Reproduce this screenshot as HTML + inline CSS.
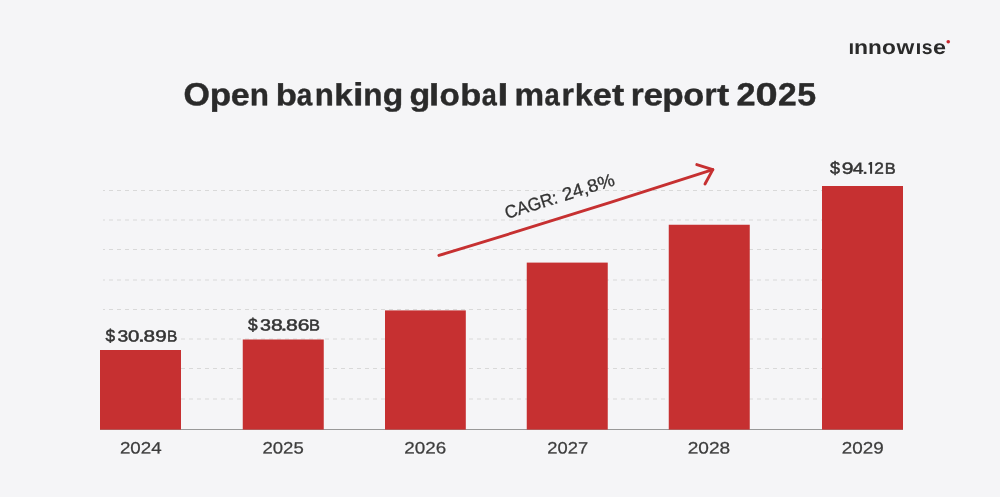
<!DOCTYPE html>
<html lang="en">
<head>
<meta charset="utf-8">
<title>Open banking global market report 2025</title>
<style>
  html, body { margin: 0; padding: 0; }
  body { width: 1000px; height: 497px; background: #f5f5f7; overflow: hidden; font-family: "Liberation Sans", sans-serif; }
  svg { display: block; position: absolute; left: 0; top: 0; will-change: transform; }
  text { font-family: "Liberation Sans", sans-serif; text-rendering: geometricPrecision; }
  .title { font-size: 32px; font-weight: bold; fill: #2a2a2a; stroke: #2a2a2a; stroke-width: 0.4px; stroke-linejoin: round; }
  .val { font-size: 16px; font-weight: normal; fill: #333333; stroke: #333333; stroke-width: 0.45px; stroke-linejoin: round; }
  .yr { font-size: 16.5px; fill: #3c3c3c; stroke: #3c3c3c; stroke-width: 0.25px; }
  .cagr { font-size: 18px; fill: #333333; stroke: #333333; stroke-width: 0.3px; }
  .logo { font-size: 20.2px; font-weight: bold; fill: #2a2a2a; }
</style>
</head>
<body>
<svg width="1000" height="497" viewBox="0 0 1000 497" role="img" aria-label="Open banking global market report 2025">
  <desc>Open banking global market report 2025. Bar chart, 2024 to 2029: $30.89B in 2024, $38.86B in 2025, rising to $94.12B in 2029. CAGR: 24,8%. innowise.</desc>
  <!-- gridlines -->
  <g stroke="#d9d9d9" stroke-width="1" stroke-dasharray="4 4" stroke-dashoffset="2" fill="none">
    <line x1="103" y1="190.5" x2="822" y2="190.5"/>
    <line x1="103" y1="220" x2="822" y2="220"/>
    <line x1="103" y1="249.5" x2="822" y2="249.5"/>
    <line x1="103" y1="280" x2="822" y2="280"/>
    <line x1="103" y1="309.5" x2="822" y2="309.5"/>
    <line x1="103" y1="339" x2="822" y2="339"/>
    <line x1="103" y1="368.5" x2="822" y2="368.5"/>
    <line x1="103" y1="399" x2="822" y2="399"/>
  </g>
  <!-- label backdrop hides gridline behind first value label -->
  <rect x="99.5" y="326" width="81.5" height="22" fill="#f5f5f7"/>
  <!-- baseline -->
  <line x1="100" y1="429.5" x2="903" y2="429.5" stroke="#999999" stroke-width="1"/>
  <!-- bars -->
  <g fill="#c63031">
    <rect x="100" y="350" width="81" height="79.60"/>
    <rect x="242.75" y="339.5" width="81" height="90.10"/>
    <rect x="385" y="310.4" width="80.8" height="119.20"/>
    <rect x="526.75" y="262.6" width="81" height="167.00"/>
    <rect x="668.75" y="224.75" width="81" height="204.85"/>
    <rect x="822" y="186" width="81" height="243.60"/>
  </g>

  <!-- arrow -->
  <g stroke="#c63031" stroke-width="2.9" stroke-linecap="round" stroke-linejoin="round" fill="none">
    <path d="M438.9,255.4 Q575.85,214.0 712.8,169.6"/>
    <polyline points="696.8,164.6 712.8,169.6 705.0,184.0"/>
  </g>

  <!-- title -->
  <g class="title" aria-label="Open banking global market report 2025">
    <text transform="translate(184.95,105.35) matrix(1.0614,0.001,0,1,0,0)" x="-1.312" y="0">O</text>
    <text transform="translate(212.10,105.35) matrix(1.0977,0.001,0,0.97,0,0)" x="-2.109" y="0">p</text>
    <text transform="translate(232.10,105.35) matrix(1.0645,0.001,0,0.97,0,0)" x="-1.250" y="0">e</text>
    <text transform="translate(251.70,105.35) matrix(0.9836,0.001,0,0.97,0,0)" x="-2.109" y="0">n</text>
    <text transform="translate(277.95,105.35) matrix(1.0822,0.001,0,0.95,0,0)" x="-2.109" y="0">b</text>
    <text transform="translate(297.45,105.35) matrix(0.8703,0.001,0,0.97,0,0)" x="-0.938" y="0">a</text>
    <text transform="translate(316.80,105.35) matrix(0.9771,0.001,0,0.97,0,0)" x="-2.109" y="0">n</text>
    <text transform="translate(336.45,105.35) matrix(1.0421,0.001,0,0.95,0,0)" x="-2.234" y="0">k</text>
    <text transform="translate(355.60,105.35) matrix(1.1843,0.001,0,1,0,0)" x="-2.234" y="0">i</text>
    <text transform="translate(365.20,105.35) matrix(0.9836,0.001,0,0.97,0,0)" x="-2.109" y="0">n</text>
    <text transform="translate(384.05,105.35) matrix(1.0501,0.001,0,0.97,0,0)" x="-1.312" y="0">g</text>
    <text transform="translate(410.80,105.35) matrix(1.0625,0.001,0,0.97,0,0)" x="-1.312" y="0">g</text>
    <text transform="translate(431.45,105.35) matrix(1.1957,0.001,0,0.95,0,0)" x="-2.234" y="0">l</text>
    <text transform="translate(440.80,105.35) matrix(1.0412,0.001,0,0.97,0,0)" x="-1.250" y="0">o</text>
    <text transform="translate(462.45,105.35) matrix(1.0760,0.001,0,0.95,0,0)" x="-2.109" y="0">b</text>
    <text transform="translate(482.45,105.35) matrix(0.8469,0.001,0,0.97,0,0)" x="-0.938" y="0">a</text>
    <text transform="translate(500.20,105.35) matrix(1.2754,0.001,0,0.95,0,0)" x="-2.234" y="0">l</text>
    <text transform="translate(516.70,105.35) matrix(1.0407,0.001,0,0.97,0,0)" x="-2.109" y="0">m</text>
    <text transform="translate(545.20,105.35) matrix(0.8557,0.001,0,0.97,0,0)" x="-0.938" y="0">a</text>
    <text transform="translate(563.70,105.35) matrix(0.9990,0.001,0,0.97,0,0)" x="-2.109" y="0">r</text>
    <text transform="translate(577.10,105.35) matrix(1.0132,0.001,0,0.95,0,0)" x="-2.234" y="0">k</text>
    <text transform="translate(594.20,105.35) matrix(1.0742,0.001,0,0.97,0,0)" x="-1.250" y="0">e</text>
    <text transform="translate(612.45,105.35) matrix(1.1494,0.001,0,0.96,0,0)" x="-0.391" y="0">t</text>
    <text transform="translate(632.95,105.35) matrix(1.0396,0.001,0,0.97,0,0)" x="-2.109" y="0">r</text>
    <text transform="translate(644.95,105.35) matrix(1.0969,0.001,0,0.97,0,0)" x="-1.250" y="0">e</text>
    <text transform="translate(664.60,105.35) matrix(1.0977,0.001,0,0.97,0,0)" x="-2.109" y="0">p</text>
    <text transform="translate(684.60,105.35) matrix(1.0735,0.001,0,0.97,0,0)" x="-1.250" y="0">o</text>
    <text transform="translate(706.45,105.35) matrix(0.9737,0.001,0,0.97,0,0)" x="-2.109" y="0">r</text>
    <text transform="translate(717.45,105.35) matrix(1.1494,0.001,0,0.96,0,0)" x="-0.391" y="0">t</text>
    <text transform="translate(737.70,105.35) matrix(1.0710,0.001,0,1,0,0)" x="-1.109" y="0">2</text>
    <text transform="translate(757.10,105.35) matrix(1.2452,0.001,0,1,0,0)" x="-1.266" y="0">0</text>
    <text transform="translate(779.20,105.35) matrix(1.0515,0.001,0,1,0,0)" x="-1.109" y="0">2</text>
    <text transform="translate(798.30,105.35) matrix(1.0614,0.001,0,1,0,0)" x="-0.984" y="0">5</text>
  </g>

  <!-- value labels -->
  <g class="val" aria-label="$30.89B $38.86B $94.12B">
    <text transform="translate(105.62,341.5) matrix(1.0804,0.001,0,1.08,0,0)" x="-0.172" y="0">$</text>
    <text transform="translate(118.22,341.5) matrix(1.2062,0.001,0,1.01,0,0)" x="-0.609" y="0">3</text>
    <text transform="translate(128.72,341.5) matrix(1.2748,0.001,0,1.01,0,0)" x="-0.625" y="0">0</text>
    <text transform="translate(140.22,341.5) matrix(1.5426,0.001,0,1.0,0,0)" x="-1.461" y="0">.</text>
    <text transform="translate(144.42,341.5) matrix(1.2986,0.001,0,1.01,0,0)" x="-0.695" y="0">8</text>
    <text transform="translate(156.22,341.5) matrix(1.2922,0.001,0,1.01,0,0)" x="-0.750" y="0">9</text>
    <text transform="translate(168.33,341.5) matrix(0.9688,0.001,0,0.98,0,0)" x="-1.312" y="0">B</text>
    <text transform="translate(248.19,330.5) matrix(1.0804,0.001,0,1.08,0,0)" x="-0.172" y="0">$</text>
    <text transform="translate(260.62,330.5) matrix(1.2325,0.001,0,1.01,0,0)" x="-0.609" y="0">3</text>
    <text transform="translate(271.83,330.5) matrix(1.3253,0.001,0,1.01,0,0)" x="-0.695" y="0">8</text>
    <text transform="translate(282.83,330.5) matrix(1.5426,0.001,0,1.0,0,0)" x="-1.461" y="0">.</text>
    <text transform="translate(287.03,330.5) matrix(1.3253,0.001,0,1.01,0,0)" x="-0.695" y="0">8</text>
    <text transform="translate(298.83,330.5) matrix(1.3206,0.001,0,1.01,0,0)" x="-0.812" y="0">6</text>
    <text transform="translate(310.43,330.5) matrix(1.0275,0.001,0,0.98,0,0)" x="-1.312" y="0">B</text>
    <text transform="translate(830.23,173.65) matrix(1.1277,0.001,0,1.08,0,0)" x="-0.172" y="0">$</text>
    <text transform="translate(842.83,173.65) matrix(1.3192,0.001,0,1.01,0,0)" x="-0.750" y="0">9</text>
    <text transform="translate(853.23,173.65) matrix(1.2155,0.001,0,1.01,0,0)" x="-0.367" y="0">4</text>
    <text transform="translate(864.23,173.65) matrix(1.2800,0.001,0,1.0,0,0)" x="-1.461" y="0">.</text>
    <path stroke="none" d="M872.10,161.90 L872.10,173.75 L870.10,173.75 L870.10,164.80 L868.50,164.80 L868.50,163.20 L870.40,161.90 Z"/>
    <text transform="translate(875.12,173.65) matrix(1.0838,0.001,0,1.01,0,0)" x="-0.805" y="0">2</text>
    <text transform="translate(886.02,173.65) matrix(1.0275,0.001,0,0.98,0,0)" x="-1.312" y="0">B</text>
  </g>

  <!-- year labels -->
  <g class="yr">
    <text transform="translate(119.90,453.50) matrix(1,0.001,0,1,0,0)" x="0" y="0" textLength="41.70" lengthAdjust="spacingAndGlyphs">2024</text>
    <text transform="translate(262.45,453.50) matrix(1,0.001,0,1,0,0)" x="0" y="0" textLength="41.33" lengthAdjust="spacingAndGlyphs">2025</text>
    <text transform="translate(404.30,453.50) matrix(1,0.001,0,1,0,0)" x="0" y="0" textLength="41.96" lengthAdjust="spacingAndGlyphs">2026</text>
    <text transform="translate(547.30,453.50) matrix(1,0.001,0,1,0,0)" x="0" y="0" textLength="40.82" lengthAdjust="spacingAndGlyphs">2027</text>
    <text transform="translate(687.72,453.50) matrix(1,0.001,0,1,0,0)" x="0" y="0" textLength="42.49" lengthAdjust="spacingAndGlyphs">2028</text>
    <text transform="translate(841.86,453.50) matrix(1,0.001,0,1,0,0)" x="0" y="0" textLength="42.00" lengthAdjust="spacingAndGlyphs">2029</text>
  </g>

  <!-- CAGR label -->
  <g class="cagr" transform="translate(507.0,219.0) rotate(-17.4)">
    <text x="0" y="0" textLength="54.3" lengthAdjust="spacingAndGlyphs">CAGR:</text>
    <text x="60.2" y="0" textLength="53.8" lengthAdjust="spacingAndGlyphs">24,8%</text>
  </g>

  <!-- logo -->
  <g class="logo" aria-label="innowise">
    <text transform="translate(849.90,54.2) scale(1.0103,1)" x="-1.430" y="0">ı</text>
    <text transform="translate(855.60,54.2) scale(1.1379,1)" x="-1.332" y="0">n</text>
    <text transform="translate(869.60,54.2) scale(1.1174,1)" x="-1.332" y="0">n</text>
    <text transform="translate(883.00,54.2) scale(1.1244,1)" x="-0.789" y="0">o</text>
    <text transform="translate(896.40,54.2) scale(1.1321,1)" x="0.059" y="0">w</text>
    <text transform="translate(916.90,54.2) scale(1.0463,1)" x="-1.430" y="0">ı</text>
    <text transform="translate(922.40,54.2) scale(0.9592,1)" x="-0.710" y="0">s</text>
    <text transform="translate(933.90,54.2) scale(1.1584,1)" x="-0.789" y="0">e</text>
  </g>
  <circle cx="948.25" cy="41.75" r="1.8" fill="#c8262c"/>
</svg>
</body>
</html>
